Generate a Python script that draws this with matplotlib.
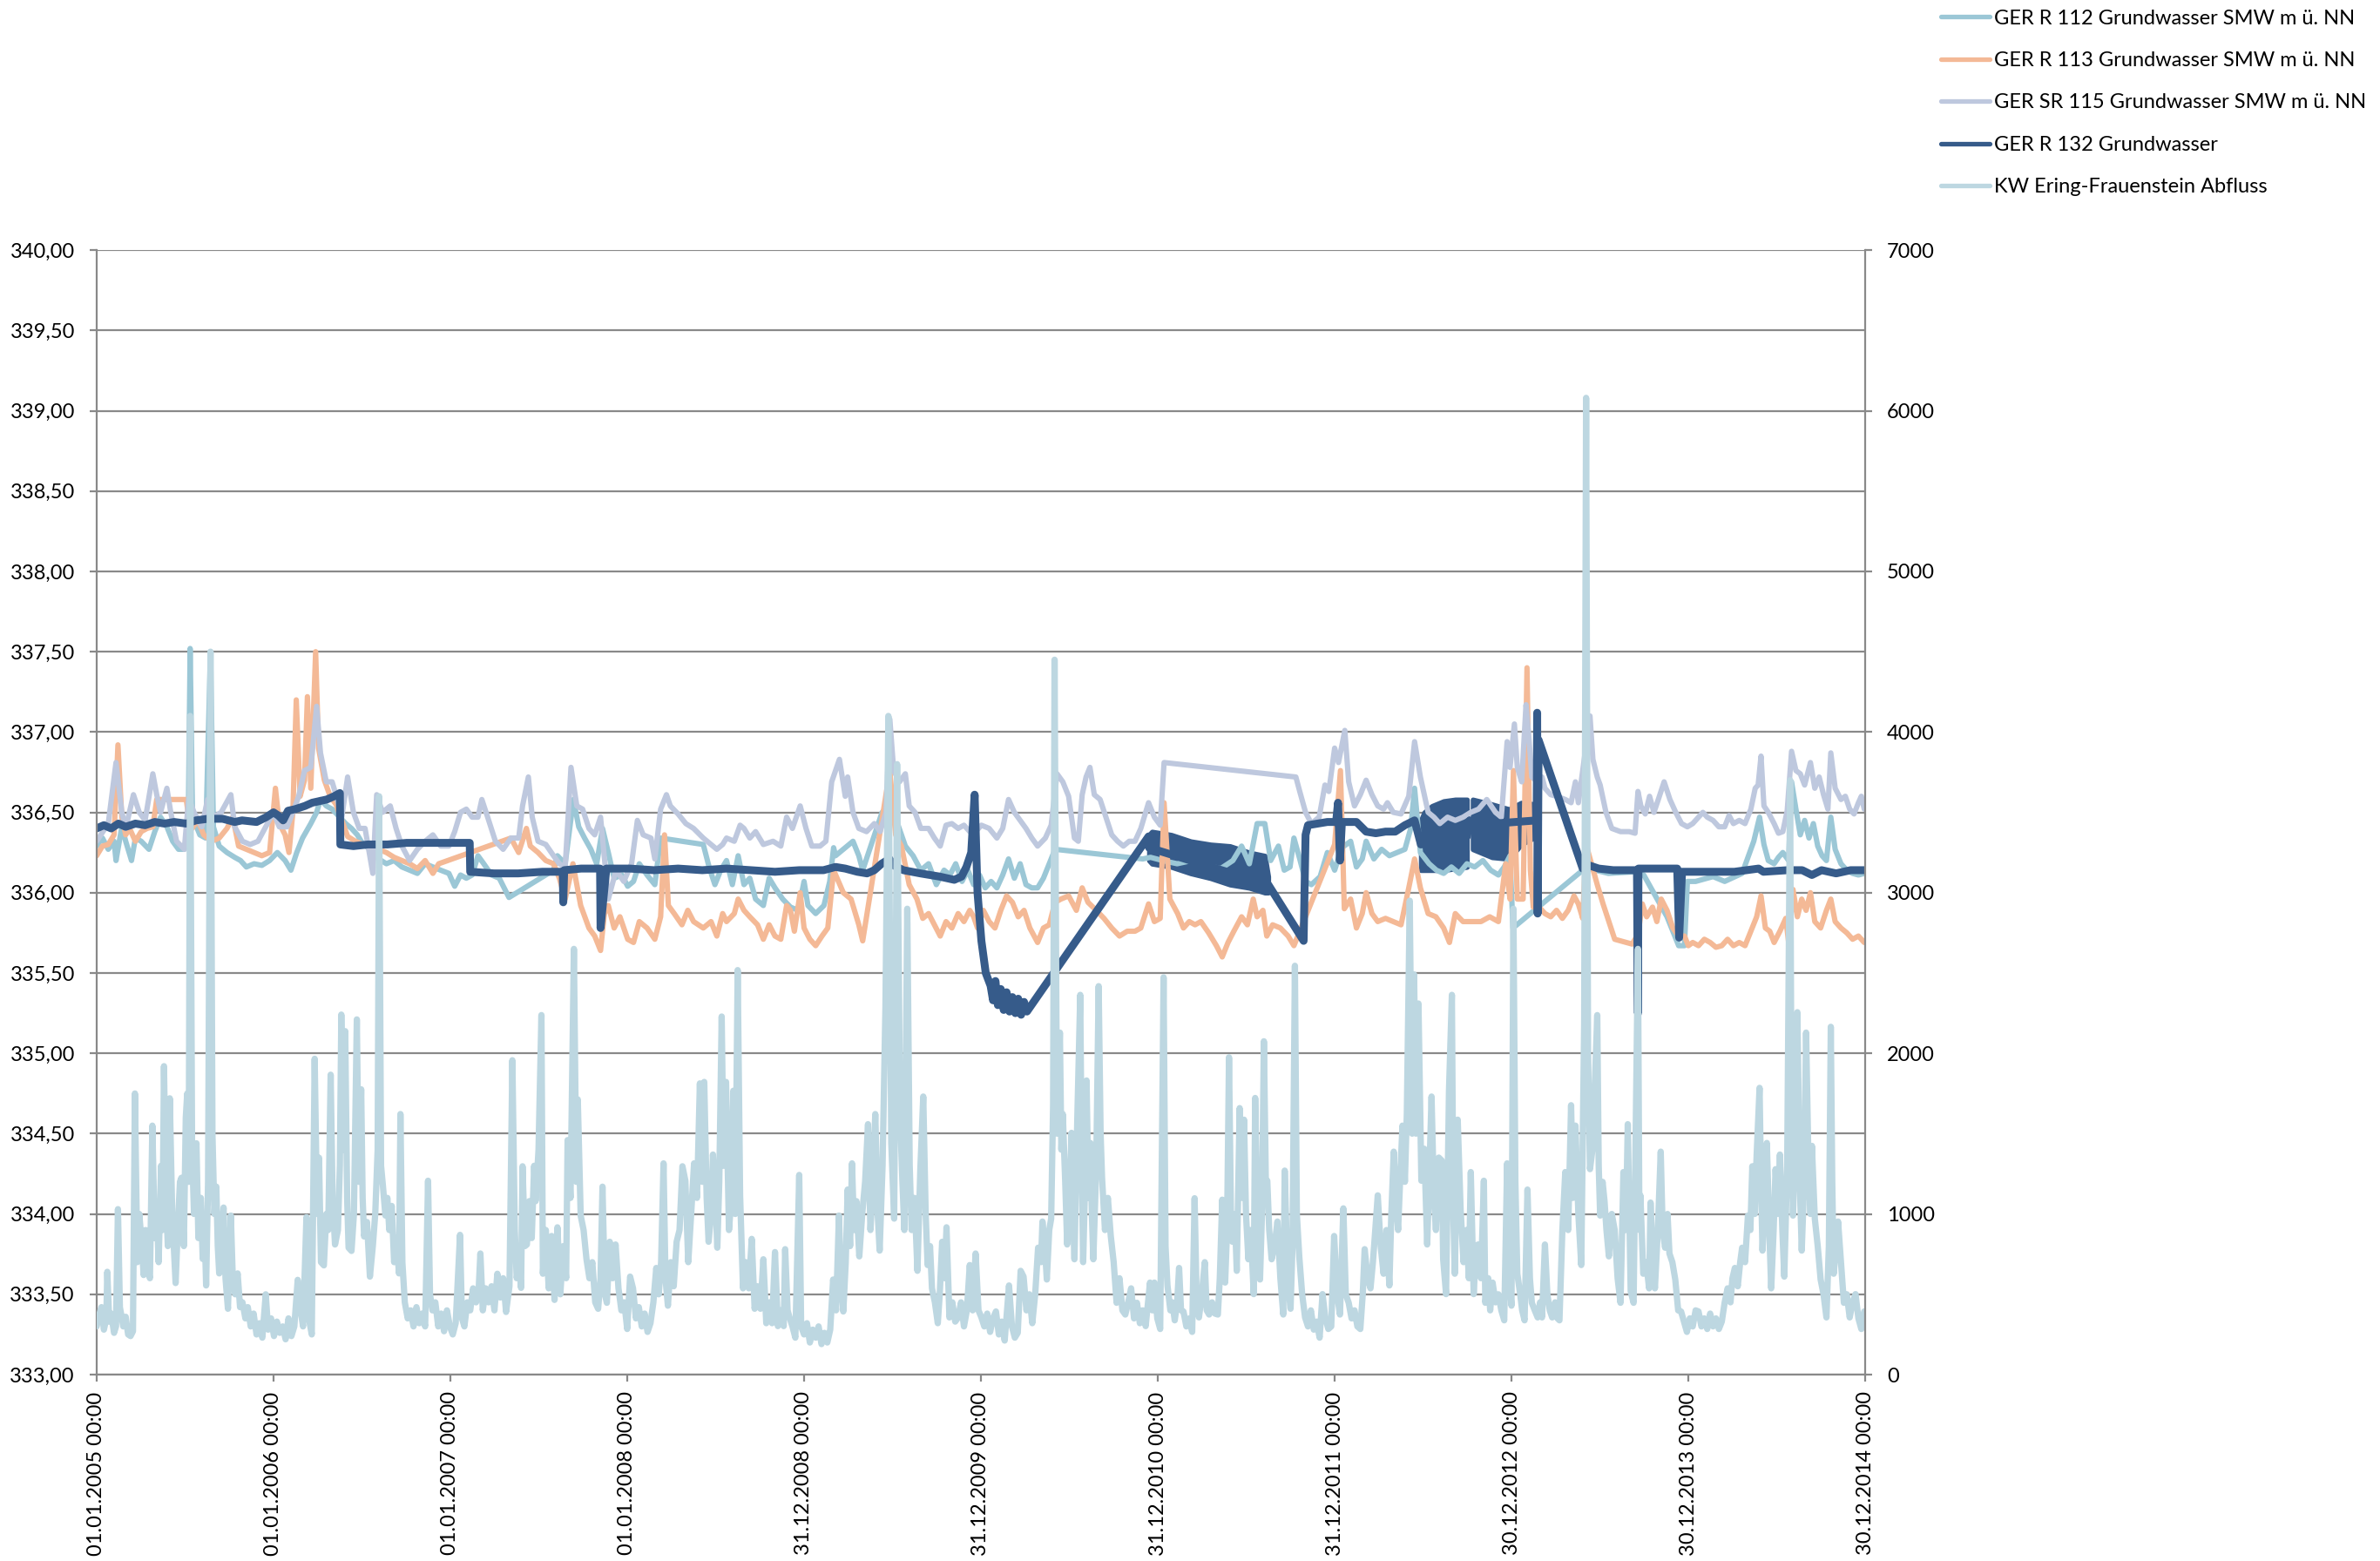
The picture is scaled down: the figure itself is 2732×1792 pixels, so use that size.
# Grundwasser / Abfluss Ering-Frauenstein 2005-2014

import matplotlib.pyplot as plt
import matplotlib.dates as mdates
import numpy as np
from matplotlib.ticker import FuncFormatter, MultipleLocator

START = np.datetime64('2005-01-01')

# (days after 01.01.2005, m ü. NN)
R112 = [(0, 336.29), (12, 336.34), (24, 336.27), (36, 336.32), (40, 336.20), (52, 336.41), (60, 336.32),
        (72, 336.20), (80, 336.34), (92, 336.32), (108, 336.27), (120, 336.38), (132, 336.47), (145, 336.41),
        (157, 336.32), (169, 336.27), (181, 336.27), (189, 336.40), (193, 337.52), (198, 336.47), (213, 336.36),
        (225, 336.34), (235, 337.50), (241, 336.41), (253, 336.29), (269, 336.25), (285, 336.22), (297, 336.20),
        (309, 336.16), (325, 336.18), (341, 336.17), (357, 336.20), (373, 336.25), (389, 336.20), (401, 336.14),
        (413, 336.25), (425, 336.34), (442, 336.43), (454, 336.50), (462, 336.58), (474, 336.54), (486, 336.52),
        (502, 336.47), (514, 336.43), (526, 336.40), (538, 336.36), (550, 336.30), (566, 336.27), (582, 336.21),
        (598, 336.18), (614, 336.20), (630, 336.16), (646, 336.14), (662, 336.12), (678, 336.18), (694, 336.16),
        (710, 336.14), (727, 336.12), (739, 336.04), (751, 336.11), (763, 336.09), (775, 336.11), (787, 336.23),
        (799, 336.18), (815, 336.11), (831, 336.09), (851, 335.97), (943, 336.14), (951, 336.23), (967, 336.18),
        (984, 336.58), (995, 336.41), (1007, 336.34), (1020, 336.27), (1032, 336.18), (1044, 336.40),
        (1056, 336.25), (1068, 336.09), (1084, 336.11), (1096, 336.04), (1108, 336.07), (1120, 336.18),
        (1136, 336.11), (1152, 336.05), (1164, 336.34), (1252, 336.30), (1264, 336.16), (1276, 336.05),
        (1288, 336.14), (1300, 336.20), (1312, 336.05), (1324, 336.23), (1336, 336.05), (1348, 336.09),
        (1360, 335.96), (1376, 335.92), (1388, 336.09), (1400, 336.03), (1416, 335.96), (1432, 335.91),
        (1448, 335.89), (1460, 336.07), (1468, 335.92), (1484, 335.87), (1501, 335.92), (1513, 336.07),
        (1521, 336.28), (1525, 336.23), (1561, 336.32), (1573, 336.23), (1581, 336.14), (1621, 336.50),
        (1637, 336.54), (1653, 336.43), (1669, 336.29), (1685, 336.23), (1701, 336.14), (1717, 336.18),
        (1733, 336.05), (1749, 336.14), (1761, 336.11), (1773, 336.18), (1786, 336.07), (1798, 336.14),
        (1810, 336.05), (1822, 336.11), (1834, 336.03), (1846, 336.07), (1858, 336.03), (1870, 336.11),
        (1882, 336.21), (1894, 336.09), (1906, 336.18), (1918, 336.05), (1930, 336.03), (1942, 336.03),
        (1954, 336.09), (1966, 336.18), (1978, 336.27), (2159, 336.21), (2175, 336.22), (2200, 336.20),
        (2230, 336.18), (2260, 336.20), (2290, 336.17), (2320, 336.15), (2345, 336.20), (2363, 336.29),
        (2379, 336.18), (2395, 336.43), (2411, 336.43), (2423, 336.20), (2439, 336.29), (2451, 336.14),
        (2463, 336.16), (2471, 336.34), (2483, 336.21), (2495, 336.07), (2507, 336.05), (2525, 336.10),
        (2540, 336.25), (2555, 336.14), (2570, 336.28), (2588, 336.32), (2600, 336.16), (2612, 336.21),
        (2620, 336.32), (2636, 336.21), (2652, 336.27), (2668, 336.23), (2684, 336.25), (2700, 336.27),
        (2712, 336.40), (2720, 336.65), (2732, 336.25), (2750, 336.18), (2765, 336.14), (2780, 336.12),
        (2796, 336.16), (2812, 336.12), (2828, 336.18), (2844, 336.16), (2861, 336.20), (2877, 336.14),
        (2893, 336.11), (2905, 336.16), (2917, 336.23), (2923, 335.78), (3067, 336.14), (3080, 336.15),
        (3120, 336.12), (3175, 336.13), (3193, 336.11), (3241, 335.85), (3265, 335.67), (3277, 335.67),
        (3283, 336.07), (3300, 336.07), (3336, 336.10), (3360, 336.07), (3396, 336.12), (3420, 336.32),
        (3432, 336.47), (3441, 336.30), (3450, 336.20), (3462, 336.18), (3471, 336.22), (3480, 336.25),
        (3492, 336.20), (3498, 336.69), (3507, 336.52), (3516, 336.36), (3525, 336.45), (3534, 336.34),
        (3543, 336.43), (3552, 336.29), (3561, 336.23), (3570, 336.20), (3579, 336.47), (3588, 336.27),
        (3600, 336.18), (3612, 336.14), (3624, 336.12), (3636, 336.11), (3648, 336.12)]

R113 = [(0, 336.23), (12, 336.29), (24, 336.30), (36, 336.36), (44, 336.92), (52, 336.47), (60, 336.36),
        (68, 336.40), (80, 336.32), (92, 336.38), (104, 336.40), (116, 336.41), (124, 336.58), (185, 336.58),
        (190, 336.47), (197, 336.40), (209, 336.45), (221, 336.36), (237, 336.32), (253, 336.34), (269, 336.40),
        (281, 336.47), (293, 336.29), (309, 336.27), (325, 336.25), (341, 336.23), (357, 336.25), (369, 336.65),
        (377, 336.43), (389, 336.36), (397, 336.25), (405, 336.50), (412, 337.20), (420, 336.60), (429, 336.70),
        (435, 337.22), (442, 336.65), (452, 337.50), (458, 336.90), (470, 336.70), (482, 336.60), (494, 336.55),
        (506, 336.45), (518, 336.35), (534, 336.32), (550, 336.30), (566, 336.28), (582, 336.27), (598, 336.25),
        (614, 336.22), (630, 336.20), (646, 336.18), (662, 336.15), (678, 336.20), (694, 336.12), (706, 336.18),
        (855, 336.34), (871, 336.25), (887, 336.40), (895, 336.29), (911, 336.25), (927, 336.20), (943, 336.18),
        (955, 336.09), (967, 335.96), (983, 336.18), (999, 335.92), (1016, 335.78), (1028, 335.73),
        (1040, 335.64), (1048, 335.87), (1056, 335.92), (1068, 335.78), (1080, 335.85), (1096, 335.71),
        (1108, 335.69), (1120, 335.82), (1136, 335.78), (1152, 335.71), (1164, 335.85), (1172, 336.36),
        (1180, 335.92), (1192, 335.87), (1208, 335.80), (1220, 335.89), (1232, 335.82), (1252, 335.78),
        (1268, 335.82), (1280, 335.73), (1292, 335.87), (1300, 335.82), (1316, 335.87), (1324, 335.96),
        (1336, 335.89), (1348, 335.85), (1364, 335.80), (1376, 335.71), (1388, 335.80), (1400, 335.73),
        (1412, 335.71), (1424, 335.92), (1432, 335.89), (1440, 335.76), (1452, 336.00), (1460, 335.78),
        (1472, 335.71), (1484, 335.67), (1497, 335.73), (1509, 335.78), (1521, 336.14), (1541, 336.00),
        (1557, 335.96), (1573, 335.80), (1581, 335.70), (1637, 336.76), (1649, 336.36), (1661, 336.29),
        (1677, 336.05), (1693, 335.96), (1705, 335.84), (1717, 335.87), (1729, 335.80), (1741, 335.73),
        (1753, 335.82), (1765, 335.78), (1778, 335.87), (1790, 335.82), (1802, 335.89), (1810, 335.85),
        (1818, 335.78), (1830, 335.89), (1842, 335.82), (1854, 335.78), (1866, 335.89), (1878, 335.98),
        (1890, 335.94), (1902, 335.85), (1914, 335.89), (1926, 335.78), (1942, 335.69), (1954, 335.78),
        (1966, 335.80), (1978, 335.94), (1990, 335.96), (2006, 335.98), (2022, 335.89), (2034, 336.03),
        (2046, 335.94), (2063, 335.89), (2079, 335.84), (2095, 335.78), (2111, 335.73), (2127, 335.76),
        (2143, 335.76), (2155, 335.78), (2171, 335.93), (2183, 335.82), (2195, 335.84), (2203, 336.56),
        (2215, 335.96), (2231, 335.87), (2243, 335.78), (2255, 335.82), (2267, 335.80), (2279, 335.82),
        (2295, 335.75), (2311, 335.67), (2323, 335.60), (2335, 335.69), (2347, 335.76), (2363, 335.85),
        (2375, 335.80), (2387, 335.96), (2395, 335.85), (2407, 335.89), (2415, 335.73), (2427, 335.80),
        (2443, 335.78), (2459, 335.73), (2471, 335.67), (2555, 336.30), (2567, 336.76), (2575, 335.90),
        (2588, 335.96), (2600, 335.78), (2612, 335.87), (2620, 336.00), (2632, 335.87), (2644, 335.82),
        (2660, 335.84), (2676, 335.82), (2692, 335.80), (2708, 336.03), (2720, 336.21), (2732, 336.03),
        (2748, 335.87), (2764, 335.85), (2780, 335.78), (2792, 335.69), (2804, 335.87), (2820, 335.82),
        (2857, 335.82), (2875, 335.85), (2893, 335.82), (2908, 336.18), (2917, 335.96), (2924, 336.76),
        (2932, 335.96), (2944, 335.96), (2952, 337.40), (2959, 336.14), (2965, 335.91), (2977, 335.91),
        (2989, 335.87), (3001, 335.85), (3013, 335.89), (3025, 335.84), (3037, 335.89), (3049, 335.98),
        (3058, 335.93), (3067, 335.84), (3074, 336.30), (3085, 336.18), (3097, 336.05), (3109, 335.93),
        (3121, 335.82), (3133, 335.71), (3145, 335.70), (3157, 335.69), (3169, 335.68), (3181, 335.74),
        (3190, 335.93), (3199, 335.85), (3211, 335.91), (3220, 335.82), (3229, 335.96), (3241, 335.89),
        (3253, 335.78), (3265, 335.73), (3277, 335.73), (3285, 335.67), (3294, 335.69), (3306, 335.67),
        (3318, 335.71), (3330, 335.69), (3342, 335.66), (3354, 335.67), (3366, 335.71), (3378, 335.67),
        (3390, 335.69), (3402, 335.67), (3414, 335.76), (3426, 335.85), (3435, 335.98), (3444, 335.78),
        (3453, 335.76), (3462, 335.69), (3474, 335.76), (3486, 335.84), (3492, 335.69), (3501, 336.02),
        (3510, 335.85), (3519, 335.96), (3528, 335.89), (3537, 336.00), (3546, 335.82), (3558, 335.78),
        (3570, 335.89), (3579, 335.96), (3588, 335.82), (3600, 335.78), (3612, 335.75), (3624, 335.71),
        (3636, 335.73), (3648, 335.69)]

SR115 = [(0, 336.32), (24, 336.43), (40, 336.81), (52, 336.50), (60, 336.40), (76, 336.61), (88, 336.50),
         (100, 336.45), (116, 336.74), (124, 336.61), (132, 336.50), (145, 336.65), (153, 336.50), (165, 336.32),
         (181, 336.27), (190, 336.59), (201, 336.50), (217, 336.41), (229, 336.58), (241, 336.47), (257, 336.50),
         (277, 336.61), (285, 336.41), (301, 336.32), (317, 336.30), (333, 336.32), (349, 336.41), (365, 336.50),
         (377, 336.41), (393, 336.41), (405, 336.50), (417, 336.60), (429, 336.76), (442, 336.78), (454, 337.16),
         (462, 336.87), (474, 336.69), (486, 336.69), (494, 336.61), (506, 336.47), (518, 336.72), (530, 336.50),
         (542, 336.40), (554, 336.40), (570, 336.12), (578, 336.61), (590, 336.50), (606, 336.54), (618, 336.40),
         (630, 336.29), (646, 336.20), (662, 336.27), (678, 336.32), (694, 336.36), (710, 336.29), (727, 336.29),
         (739, 336.38), (751, 336.50), (763, 336.52), (775, 336.47), (787, 336.47), (795, 336.58), (807, 336.47),
         (823, 336.32), (839, 336.27), (855, 336.34), (871, 336.34), (879, 336.54), (891, 336.72), (899, 336.47),
         (911, 336.32), (927, 336.30), (943, 336.23), (955, 336.18), (967, 336.16), (979, 336.78), (991, 336.54),
         (1003, 336.52), (1016, 336.40), (1028, 336.36), (1040, 336.47), (1056, 335.96), (1072, 336.14),
         (1088, 336.07), (1104, 336.18), (1116, 336.45), (1128, 336.36), (1144, 336.34), (1152, 336.21),
         (1164, 336.52), (1176, 336.61), (1184, 336.54), (1200, 336.49), (1216, 336.43), (1232, 336.40),
         (1252, 336.34), (1268, 336.30), (1280, 336.27), (1292, 336.30), (1300, 336.34), (1316, 336.32),
         (1328, 336.42), (1336, 336.40), (1348, 336.34), (1360, 336.38), (1376, 336.30), (1396, 336.32),
         (1412, 336.29), (1424, 336.47), (1436, 336.40), (1452, 336.54), (1464, 336.40), (1476, 336.29),
         (1493, 336.29), (1505, 336.32), (1517, 336.69), (1533, 336.83), (1545, 336.60), (1550, 336.72),
         (1561, 336.50), (1573, 336.40), (1589, 336.38), (1605, 336.43), (1617, 336.38), (1629, 336.50),
         (1637, 337.08), (1645, 336.76), (1657, 336.69), (1669, 336.74), (1677, 336.54), (1689, 336.50),
         (1701, 336.40), (1717, 336.40), (1729, 336.34), (1741, 336.29), (1753, 336.42), (1765, 336.43),
         (1778, 336.40), (1790, 336.42), (1802, 336.38), (1814, 336.38), (1826, 336.42), (1842, 336.40),
         (1858, 336.34), (1870, 336.40), (1882, 336.58), (1894, 336.50), (1906, 336.45), (1918, 336.40),
         (1930, 336.34), (1942, 336.29), (1958, 336.34), (1970, 336.42), (1982, 336.74), (1994, 336.69),
         (2006, 336.60), (2018, 336.34), (2026, 336.32), (2034, 336.61), (2042, 336.72), (2050, 336.78),
         (2059, 336.61), (2071, 336.58), (2083, 336.47), (2095, 336.36), (2107, 336.32), (2119, 336.29),
         (2131, 336.32), (2143, 336.32), (2155, 336.40), (2171, 336.56), (2183, 336.47), (2195, 336.42),
         (2203, 336.81), (2475, 336.72), (2483, 336.63), (2495, 336.50), (2507, 336.43), (2523, 336.47),
         (2535, 336.67), (2543, 336.63), (2555, 336.90), (2563, 336.81), (2576, 337.01), (2584, 336.69),
         (2596, 336.54), (2608, 336.61), (2620, 336.70), (2632, 336.61), (2644, 336.54), (2656, 336.52),
         (2664, 336.56), (2676, 336.50), (2692, 336.49), (2708, 336.60), (2720, 336.94), (2732, 336.72),
         (2748, 336.50), (2760, 336.47), (2772, 336.43), (2788, 336.47), (2804, 336.45), (2820, 336.47),
         (2836, 336.50), (2852, 336.52), (2869, 336.58), (2887, 336.50), (2899, 336.47), (2911, 336.94),
         (2917, 336.78), (2926, 337.05), (2932, 336.78), (2941, 336.69), (2950, 337.17), (2956, 336.96),
         (2962, 336.72), (2974, 336.69), (2983, 336.72), (2989, 336.65), (3001, 336.61), (3013, 336.60),
         (3031, 336.58), (3043, 336.56), (3052, 336.69), (3058, 336.56), (3067, 336.76), (3082, 337.10),
         (3088, 336.83), (3097, 336.72), (3103, 336.67), (3115, 336.50), (3127, 336.40), (3145, 336.38),
         (3163, 336.38), (3175, 336.37), (3181, 336.63), (3187, 336.54), (3196, 336.49), (3205, 336.60),
         (3214, 336.50), (3223, 336.58), (3235, 336.69), (3247, 336.58), (3259, 336.50), (3271, 336.43),
         (3283, 336.41), (3294, 336.43), (3306, 336.47), (3315, 336.50), (3324, 336.47), (3336, 336.45),
         (3348, 336.41), (3360, 336.41), (3369, 336.48), (3378, 336.43), (3390, 336.45), (3402, 336.43),
         (3414, 336.52), (3423, 336.65), (3429, 336.67), (3435, 336.85), (3441, 336.54), (3450, 336.50),
         (3462, 336.43), (3471, 336.37), (3480, 336.38), (3489, 336.51), (3498, 336.88), (3507, 336.76),
         (3516, 336.74), (3525, 336.67), (3537, 336.81), (3546, 336.65), (3555, 336.72), (3564, 336.61),
         (3573, 336.52), (3579, 336.87), (3588, 336.65), (3600, 336.58), (3609, 336.60), (3618, 336.52),
         (3627, 336.49), (3636, 336.56), (3642, 336.60), (3648, 336.52)]

R132 = [(0, 336.40), (15, 336.42), (30, 336.40), (45, 336.43), (60, 336.41), (80, 336.43), (100, 336.42),
        (120, 336.44), (140, 336.43), (160, 336.44), (185, 336.43), (205, 336.45), (230, 336.46), (260, 336.46),
        (285, 336.44), (300, 336.45), (330, 336.44), (350, 336.47), (365, 336.50), (375, 336.48), (385, 336.45),
        (395, 336.51), (410, 336.52), (430, 336.54), (445, 336.56), (460, 336.57), (475, 336.58), (490, 336.60),
        (502, 336.62), (503, 336.30), (530, 336.29), (560, 336.30), (600, 336.30), (640, 336.31), (700, 336.31),
        (770, 336.31), (771, 336.13), (820, 336.12), (870, 336.12), (920, 336.13), (962, 336.13), (963, 335.94),
        (965, 336.14), (1000, 336.15), (1039, 336.15), (1040, 335.78), (1052, 336.15), (1100, 336.15),
        (1150, 336.14), (1200, 336.15), (1250, 336.14), (1300, 336.15), (1350, 336.14), (1400, 336.13),
        (1450, 336.14), (1500, 336.14), (1525, 336.16), (1545, 336.15), (1570, 336.13), (1590, 336.12),
        (1605, 336.14), (1620, 336.18), (1636, 336.21), (1645, 336.17), (1665, 336.14), (1700, 336.12),
        (1740, 336.10), (1770, 336.08), (1785, 336.10), (1795, 336.16), (1805, 336.25), (1812, 336.61),
        (1818, 336.00), (1826, 335.70), (1835, 335.50), (1845, 335.42), (1850, 335.33), (1855, 335.45),
        (1860, 335.30), (1866, 335.40), (1872, 335.27), (1878, 335.38), (1884, 335.26), (1890, 335.35),
        (1896, 335.25), (1902, 335.34), (1908, 335.24), (1914, 335.32), (1920, 335.26), (2171, 336.35),
        (2172, 336.28), (2418, 336.05), (2491, 335.70), (2495, 336.36), (2500, 336.42), (2520, 336.43),
        (2540, 336.44), (2558, 336.44), (2562, 336.56), (2566, 336.20), (2570, 336.44), (2600, 336.44),
        (2620, 336.38), (2640, 336.37), (2660, 336.38), (2680, 336.38), (2700, 336.42), (2720, 336.45),
        (2733, 336.30), (2828, 336.35), (2834, 336.45), (2840, 336.42), (2972, 336.45), (2973, 337.12),
        (2974, 335.87), (2976, 336.95), (3067, 336.15), (3080, 336.17), (3100, 336.15), (3130, 336.14),
        (3179, 336.14), (3180, 335.63), (3181, 335.25), (3182, 336.15), (3230, 336.15), (3262, 336.15),
        (3266, 335.72), (3272, 336.13), (3320, 336.13), (3380, 336.13), (3430, 336.15), (3440, 336.13),
        (3490, 336.14), (3520, 336.14), (3540, 336.11), (3560, 336.14), (3590, 336.12), (3620, 336.14),
        (3649, 336.14)]

# stretches where R132 swings fast: (day, lower edge, upper edge)
R132_BANDS = [
    [(2172, 336.20, 336.36), (2178, 336.18, 336.38), (2218, 336.16, 336.36), (2258, 336.12, 336.32),
     (2299, 336.09, 336.30), (2339, 336.05, 336.29), (2379, 336.03, 336.25), (2411, 336.00, 336.23),
     (2418, 336.00, 336.10)],
    [(2733, 336.14, 336.45), (2740, 336.14, 336.50), (2756, 336.14, 336.54), (2780, 336.14, 336.57),
     (2804, 336.15, 336.58), (2828, 336.16, 336.58)],
    [(2840, 336.27, 336.58), (2880, 336.22, 336.55), (2915, 336.21, 336.52), (2940, 336.30, 336.56),
     (2972, 336.35, 336.55)],
]

# (days after 01.01.2005, m³/s)
ABFLUSS = [(0, 300), (6, 380), (10, 420), (15, 280), (20, 350), (22, 640), (26, 330), (30, 380), (36, 260),
           (40, 300), (44, 1030), (48, 420), (55, 300), (60, 360), (65, 250), (70, 240), (75, 270), (79, 1750),
           (84, 700), (88, 1000), (93, 820), (97, 620), (101, 900), (106, 650), (110, 600), (115, 1550),
           (120, 850), (124, 1050), (128, 700), (133, 1300), (136, 900), (139, 1920), (143, 1100), (147, 800),
           (151, 1720), (156, 1000), (160, 750), (163, 570), (168, 950), (172, 1200), (175, 1225), (180, 800),
           (184, 1600), (187, 1750), (190, 1200), (193, 4100), (197, 1400), (201, 1000), (206, 1440), (210, 850),
           (215, 1100), (219, 720), (223, 900), (226, 555), (230, 1200), (235, 4500), (239, 1500), (243, 1000),
           (247, 1170), (250, 800), (253, 630), (257, 850), (262, 1040), (266, 600), (271, 410), (277, 990),
           (281, 600), (286, 500), (291, 630), (296, 420), (301, 450), (307, 350), (312, 420), (318, 300),
           (324, 380), (330, 250), (336, 320), (342, 230), (349, 500), (354, 280), (360, 350), (366, 240),
           (372, 330), (378, 260), (384, 300), (390, 220), (396, 350), (402, 240), (408, 300), (415, 590),
           (420, 420), (426, 300), (433, 980), (438, 350), (444, 250), (450, 1966), (455, 1000), (459, 1350),
           (463, 700), (469, 680), (474, 1000), (478, 900), (483, 1867), (487, 1100), (492, 810), (498, 900),
           (502, 1300), (505, 2241), (509, 1400), (513, 2138), (517, 1100), (520, 790), (526, 770), (531, 1000),
           (537, 2211), (541, 1200), (546, 1776), (549, 1100), (552, 860), (558, 950), (564, 610), (570, 800),
           (575, 1000), (580, 1400), (583, 3600), (587, 1300), (591, 1170), (596, 990), (600, 1100), (604, 900),
           (609, 1050), (614, 700), (619, 850), (624, 630), (627, 1622), (631, 700), (636, 450), (642, 350),
           (648, 400), (654, 300), (660, 420), (666, 320), (672, 380), (678, 300), (684, 1207), (688, 500),
           (693, 400), (699, 450), (705, 300), (711, 380), (717, 270), (723, 400), (729, 300), (735, 250),
           (741, 320), (750, 870), (754, 350), (759, 300), (765, 450), (771, 400), (777, 537), (783, 450),
           (788, 500), (792, 754), (797, 400), (803, 537), (809, 450), (815, 550), (821, 400), (827, 628),
           (833, 480), (839, 600), (845, 390), (852, 550), (858, 1957), (863, 900), (867, 600), (872, 700),
           (876, 540), (879, 1297), (884, 800), (888, 810), (893, 1080), (898, 850), (903, 1300), (906, 1080),
           (912, 1400), (918, 2238), (921, 628), (927, 900), (933, 537), (939, 863), (945, 465), (951, 917),
           (957, 500), (963, 800), (969, 600), (972, 1460), (978, 1100), (985, 2650), (990, 1200), (993, 1713),
           (999, 990), (1005, 900), (1011, 718), (1017, 600), (1023, 700), (1029, 450), (1035, 410), (1040, 600),
           (1044, 1170), (1049, 500), (1053, 447), (1059, 827), (1065, 600), (1071, 810), (1077, 537),
           (1083, 400), (1089, 450), (1095, 284), (1101, 610), (1107, 537), (1113, 350), (1119, 420),
           (1125, 300), (1131, 380), (1137, 266), (1143, 320), (1149, 450), (1155, 664), (1160, 500),
           (1165, 700), (1170, 1315), (1174, 600), (1179, 429), (1185, 700), (1191, 550), (1197, 827),
           (1203, 900), (1209, 1297), (1215, 1207), (1221, 700), (1227, 1000), (1233, 1315), (1239, 1100),
           (1245, 1813), (1250, 1200), (1254, 1822), (1259, 1100), (1263, 827), (1268, 1000), (1272, 1370),
           (1277, 1100), (1281, 790), (1285, 1200), (1290, 2229), (1294, 1300), (1299, 1822), (1305, 900),
           (1310, 1100), (1314, 1767), (1318, 1000), (1323, 2518), (1328, 1116), (1334, 537), (1340, 700),
           (1346, 537), (1352, 845), (1358, 410), (1364, 550), (1370, 410), (1376, 718), (1382, 320),
           (1388, 450), (1394, 320), (1400, 763), (1406, 302), (1412, 400), (1418, 302), (1421, 781),
           (1426, 400), (1430, 356), (1436, 300), (1442, 230), (1450, 1243), (1454, 300), (1460, 250),
           (1466, 320), (1472, 200), (1478, 280), (1484, 230), (1490, 300), (1496, 190), (1502, 260),
           (1508, 200), (1514, 280), (1520, 592), (1526, 400), (1532, 990), (1536, 600), (1541, 393),
           (1546, 700), (1550, 1152), (1555, 800), (1559, 1315), (1563, 900), (1568, 1080), (1574, 736),
           (1580, 1000), (1586, 1200), (1592, 1559), (1597, 900), (1601, 1116), (1607, 1622), (1612, 1000),
           (1616, 772), (1622, 1300), (1628, 2292), (1634, 4100), (1640, 1442), (1646, 971), (1652, 3800),
           (1658, 1640), (1663, 1200), (1667, 900), (1673, 2900), (1678, 1300), (1682, 900), (1688, 1100),
           (1694, 646), (1700, 1279), (1706, 1731), (1711, 1000), (1715, 682), (1720, 800), (1724, 537),
           (1730, 450), (1736, 320), (1740, 500), (1745, 827), (1750, 600), (1754, 917), (1760, 356),
           (1766, 450), (1772, 330), (1778, 356), (1784, 450), (1790, 300), (1796, 400), (1802, 682),
           (1808, 400), (1814, 754), (1820, 400), (1826, 356), (1832, 300), (1838, 380), (1844, 266),
           (1850, 350), (1856, 393), (1862, 250), (1868, 330), (1874, 212), (1883, 555), (1889, 300),
           (1895, 230), (1901, 260), (1907, 646), (1913, 610), (1919, 400), (1925, 500), (1931, 320),
           (1937, 500), (1943, 790), (1949, 700), (1952, 953), (1957, 800), (1961, 592), (1966, 900),
           (1970, 971), (1974, 1677), (1977, 4450), (1982, 1500), (1988, 2129), (1991, 1400), (1994, 1622),
           (1999, 1200), (2003, 810), (2008, 1100), (2012, 1505), (2015, 1000), (2018, 718), (2024, 1604),
           (2030, 2364), (2033, 1300), (2036, 700), (2040, 1200), (2043, 1831), (2047, 1100), (2051, 1442),
           (2054, 1000), (2057, 718), (2063, 1300), (2068, 2418), (2072, 1500), (2075, 1225), (2081, 900),
           (2087, 1100), (2093, 863), (2099, 700), (2105, 447), (2111, 600), (2117, 400), (2123, 374),
           (2129, 450), (2135, 537), (2141, 350), (2147, 447), (2153, 320), (2159, 400), (2165, 302),
           (2170, 450), (2174, 573), (2179, 400), (2183, 573), (2189, 350), (2195, 284), (2202, 2473),
           (2206, 800), (2210, 555), (2216, 400), (2220, 450), (2225, 338), (2230, 450), (2234, 664),
           (2238, 400), (2243, 393), (2249, 300), (2255, 350), (2261, 266), (2266, 1098), (2270, 500),
           (2275, 356), (2281, 500), (2287, 700), (2291, 400), (2296, 374), (2302, 450), (2308, 380),
           (2314, 374), (2318, 600), (2323, 1089), (2329, 573), (2333, 900), (2337, 1975), (2341, 1000),
           (2344, 827), (2349, 1000), (2353, 646), (2359, 1659), (2363, 1100), (2368, 1587), (2372, 1000),
           (2377, 718), (2382, 900), (2388, 501), (2391, 1722), (2396, 900), (2401, 592), (2405, 1000),
           (2409, 2075), (2413, 1200), (2416, 1207), (2420, 900), (2425, 718), (2431, 800), (2437, 953),
           (2443, 600), (2449, 374), (2452, 1270), (2458, 600), (2464, 410), (2468, 800), (2473, 2545),
           (2477, 1000), (2482, 736), (2488, 500), (2494, 356), (2500, 300), (2506, 400), (2512, 280),
           (2518, 330), (2524, 230), (2530, 501), (2536, 350), (2542, 284), (2548, 300), (2554, 863),
           (2560, 500), (2566, 374), (2573, 1035), (2578, 500), (2584, 447), (2590, 350), (2596, 400),
           (2602, 300), (2608, 284), (2613, 500), (2617, 781), (2623, 600), (2629, 537), (2634, 700),
           (2638, 863), (2644, 1116), (2650, 800), (2656, 628), (2662, 900), (2668, 555), (2672, 1000),
           (2677, 1388), (2681, 1100), (2686, 900), (2690, 1200), (2695, 1550), (2700, 1200), (2704, 1622),
           (2710, 2950), (2715, 1500), (2719, 2491), (2723, 1500), (2728, 2310), (2734, 1207), (2740, 1406),
           (2746, 810), (2750, 1200), (2755, 1731), (2760, 1100), (2764, 900), (2770, 1351), (2776, 1333),
           (2779, 718), (2785, 501), (2791, 1767), (2797, 2364), (2800, 1000), (2803, 628), (2809, 1587),
           (2815, 1026), (2821, 700), (2827, 900), (2832, 600), (2836, 1261), (2842, 501), (2847, 800),
           (2851, 810), (2857, 600), (2863, 1207), (2866, 447), (2872, 600), (2876, 400), (2881, 573),
           (2887, 450), (2893, 500), (2899, 400), (2905, 338), (2911, 1315), (2915, 600), (2920, 429),
           (2924, 2900), (2928, 1200), (2932, 628), (2938, 500), (2942, 400), (2947, 338), (2953, 1152),
           (2958, 600), (2962, 447), (2968, 400), (2974, 356), (2979, 450), (2983, 356), (2989, 810),
           (2994, 500), (2999, 400), (3004, 356), (3010, 450), (3015, 350), (3019, 338), (3025, 900),
           (3031, 1261), (3037, 900), (3043, 1677), (3047, 1100), (3052, 1550), (3058, 1000), (3064, 682),
           (3070, 2183), (3074, 6080), (3078, 2000), (3082, 1279), (3087, 1400), (3091, 1713), (3097, 2238),
           (3100, 1300), (3103, 990), (3108, 1200), (3112, 1080), (3116, 900), (3121, 736), (3127, 1000),
           (3133, 900), (3139, 600), (3145, 447), (3151, 1261), (3156, 900), (3160, 1559), (3166, 519),
           (3172, 447), (3181, 2650), (3184, 900), (3186, 1116), (3192, 628), (3198, 700), (3204, 537),
           (3207, 1071), (3212, 700), (3216, 537), (3222, 900), (3228, 1388), (3232, 900), (3237, 790),
           (3242, 1000), (3246, 754), (3252, 700), (3258, 592), (3264, 400), (3270, 393), (3276, 330),
           (3282, 266), (3288, 350), (3294, 300), (3300, 400), (3306, 393), (3312, 300), (3318, 350),
           (3324, 284), (3330, 380), (3336, 300), (3342, 350), (3348, 284), (3354, 330), (3360, 450),
           (3366, 537), (3372, 450), (3376, 600), (3381, 664), (3387, 550), (3392, 700), (3396, 790),
           (3402, 700), (3408, 990), (3413, 900), (3417, 1297), (3422, 1000), (3426, 1370), (3432, 1785),
           (3435, 1200), (3438, 772), (3443, 1100), (3447, 1442), (3452, 900), (3456, 537), (3461, 900),
           (3465, 1279), (3470, 1000), (3474, 1370), (3479, 900), (3483, 610), (3489, 1297), (3495, 3700),
           (3498, 1500), (3501, 990), (3506, 1500), (3510, 2256), (3515, 1200), (3519, 772), (3524, 1200),
           (3528, 2129), (3533, 1300), (3537, 1000), (3540, 1424), (3546, 971), (3552, 800), (3558, 592),
           (3564, 500), (3570, 356), (3575, 800), (3579, 2165), (3582, 1200), (3585, 628), (3590, 800),
           (3594, 953), (3600, 700), (3606, 447), (3612, 500), (3618, 356), (3624, 450), (3630, 501),
           (3636, 350), (3642, 284), (3648, 393)]

LABELS = ['GER R 112 Grundwasser SMW m ü. NN', 'GER R 113 Grundwasser SMW m ü. NN',
          'GER SR 115 Grundwasser SMW m ü. NN', 'GER R 132 Grundwasser', 'KW Ering-Frauenstein Abfluss']
COLORS = ['#9bc7d6', '#f4b996', '#bec8de', '#365b8a', '#bdd7e1']
TICK_DAYS = [0, 365, 730, 1095, 1460, 1825, 2190, 2555, 2920, 3285, 3650]

GRID = '#898989'


def to_xy(pairs):
    pairs = sorted(pairs)
    days = np.array([p[0] for p in pairs])
    vals = np.array([p[1] for p in pairs], dtype=float)
    return START + days.astype('timedelta64[D]'), vals


def main():
    plt.rcParams['font.family'] = ['Lato', 'DejaVu Sans']
    fig = plt.figure(figsize=(27.32, 17.92), dpi=100)
    ax = fig.add_axes([0.0406, 0.1194, 0.7431, 0.7204])
    ax2 = ax.twinx()

    handles = []
    for series, color, lw in zip([R112, R113, SR115, R132], COLORS[:4], [4.4, 4.4, 4.4, 6.5]):
        x, y = to_xy(series)
        h, = ax.plot(x, y, color=color, lw=lw, solid_joinstyle='round', solid_capstyle='round')
        handles.append(h)

    for band in R132_BANDS:
        x, _ = to_xy([(b[0], 0) for b in band])
        lo = [b[1] for b in band]
        hi = [b[2] for b in band]
        ax.fill_between(x, lo, hi, color=COLORS[3], lw=4)

    x, y = to_xy(ABFLUSS)
    h, = ax2.plot(x, y, color=COLORS[4], lw=5.2, solid_joinstyle='round', solid_capstyle='round')
    handles.append(h)

    ax.set_xlim(START, START + np.timedelta64(3650, 'D'))
    ax.set_ylim(333, 340)
    ax2.set_ylim(0, 7000)
    ax.yaxis.set_major_locator(MultipleLocator(0.5))
    ax.yaxis.set_major_formatter(FuncFormatter(lambda v, p: f'{v:.2f}'.replace('.', ',')))
    ax2.yaxis.set_major_locator(MultipleLocator(1000))
    ax2.yaxis.set_major_formatter(FuncFormatter(lambda v, p: f'{v:.0f}'))
    ax.set_xticks(START + np.array(TICK_DAYS).astype('timedelta64[D]'))
    ax.xaxis.set_major_formatter(mdates.DateFormatter('%d.%m.%Y %H:%M'))

    ax.set_axisbelow(True)
    ax.yaxis.grid(True, color=GRID, lw=1.6)
    for a in (ax, ax2):
        for s in a.spines.values():
            s.set_visible(False)
    ax.spines['left'].set_visible(True)
    ax.spines['bottom'].set_visible(True)
    ax2.spines['right'].set_visible(True)
    for s in (ax.spines['left'], ax.spines['bottom'], ax2.spines['right']):
        s.set_color(GRID)
        s.set_linewidth(1.6)

    ax.tick_params(axis='y', length=6, width=1.6, color=GRID, pad=12, labelsize=17)
    ax2.tick_params(axis='y', length=6, width=1.6, color=GRID, pad=12, labelsize=17)
    ax.tick_params(axis='x', length=6, width=1.6, color=GRID, pad=8, labelsize=17, labelrotation=90)

    leg = fig.legend(handles, LABELS, loc='upper left', bbox_to_anchor=(0.8118, 1.0), frameon=False,
                     fontsize=17, handlelength=2.35, handletextpad=0.2, labelspacing=1.16,
                     borderpad=0.45, borderaxespad=0)
    for line in leg.get_lines():
        line.set_linewidth(3.8)

    fig.savefig('out.png', dpi=100)


if __name__ == '__main__':
    main()
